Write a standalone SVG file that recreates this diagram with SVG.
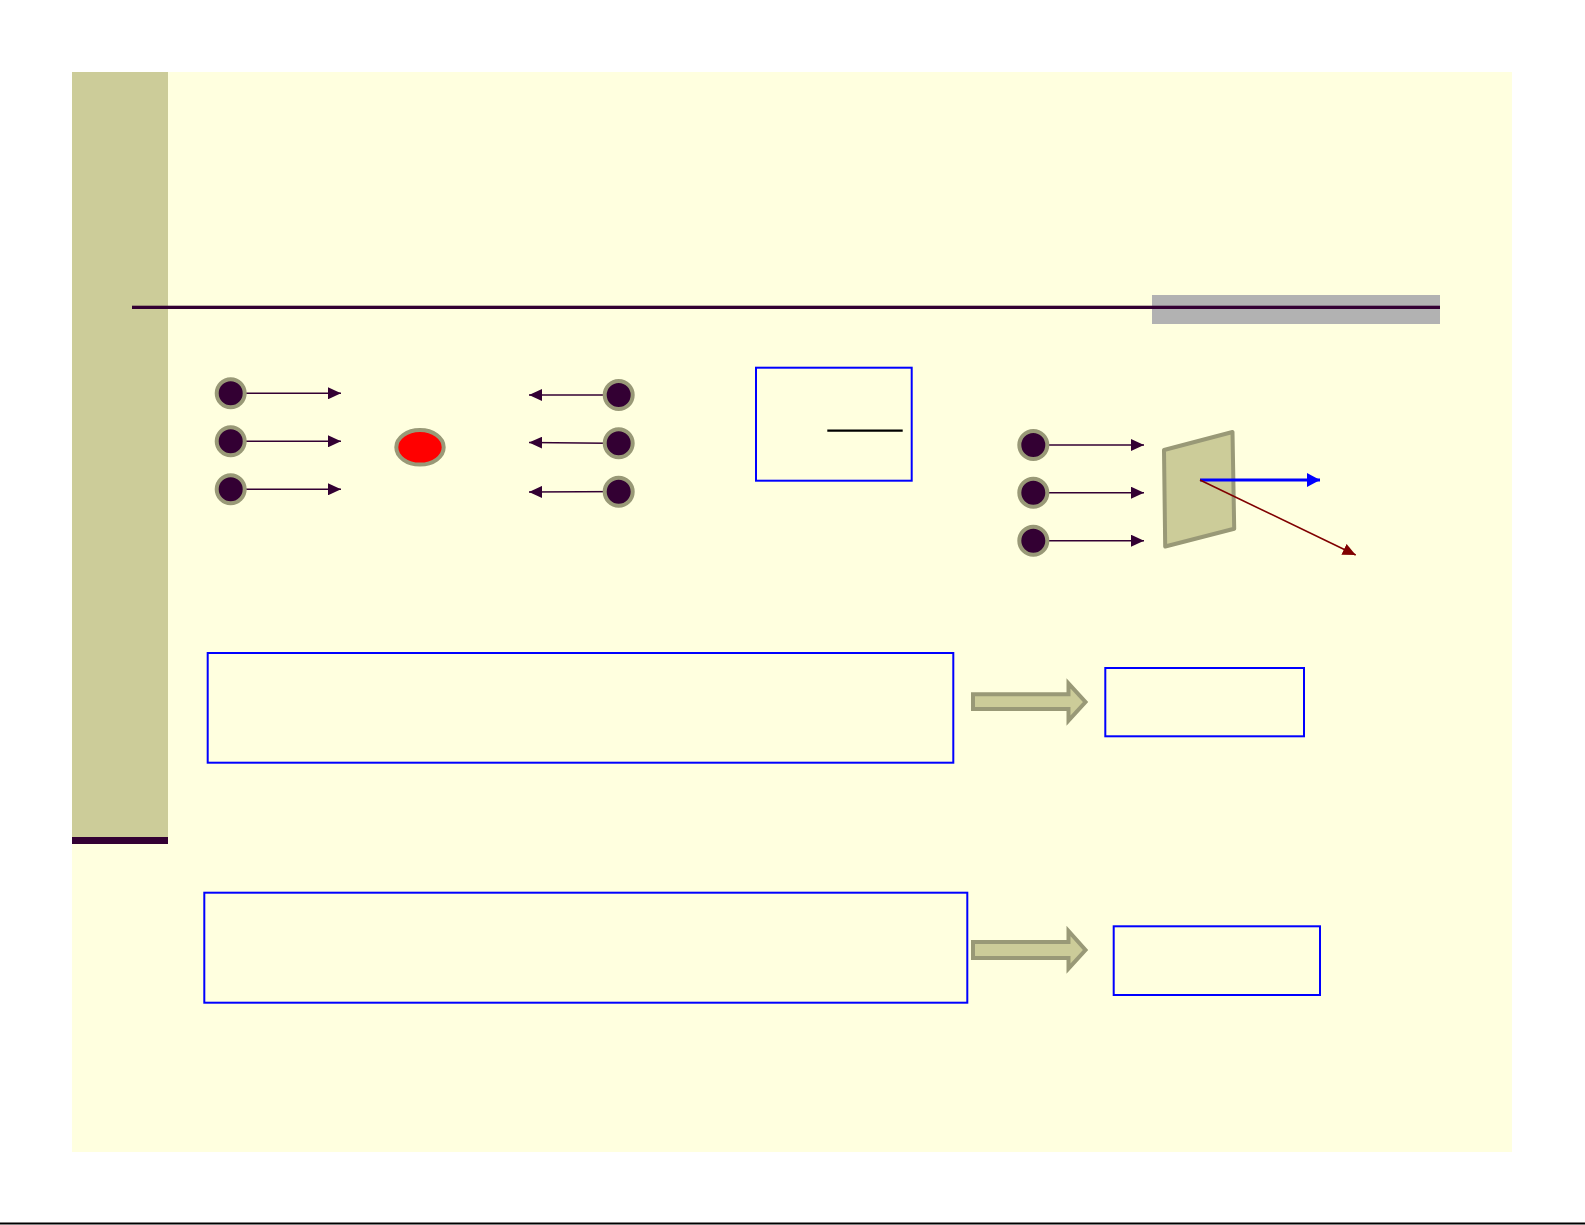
<svg xmlns="http://www.w3.org/2000/svg" width="1585" height="1225" viewBox="0 0 1585 1225">
<style>
.dot{fill:#330033;stroke:#999977;stroke-width:4}
.ln{stroke:#330033;stroke-width:1.6;fill:none}
.box{fill:none;stroke:#0000ff;stroke-width:2}
.blk{fill:#cccc99;stroke:#999977;stroke-width:4;stroke-linejoin:miter}
</style>
<defs>
<marker id="ah" markerUnits="userSpaceOnUse" markerWidth="14" markerHeight="12" refX="13" refY="6" orient="auto">
<path d="M0,0 L13,6 L0,12 Z" fill="#330033"/>
</marker>
<marker id="ahb" markerUnits="userSpaceOnUse" markerWidth="14" markerHeight="14" refX="13" refY="7" orient="auto">
<path d="M0,0 L13,7 L0,14 Z" fill="#0000ff"/>
</marker>
<marker id="ahr" markerUnits="userSpaceOnUse" markerWidth="14" markerHeight="12" refX="13" refY="6" orient="auto">
<path d="M0,0 L13,6 L0,12 Z" fill="#800000"/>
</marker>
</defs>
<rect x="0" y="0" width="1585" height="1225" fill="#ffffff"/>
<g id="background">
<rect x="72" y="72" width="1440" height="1080" fill="#ffffdf"/>
<rect x="72" y="72" width="96" height="765" fill="#cccc99"/>
<rect x="72" y="837" width="96" height="7" fill="#330033"/>
<rect x="1152" y="295" width="288" height="29" fill="#b2b2b2"/>
<rect x="132" y="305.7" width="1308" height="3.3" fill="#330033"/>
<line x1="0" y1="1223.5" x2="1585" y2="1223.5" stroke="#000000" stroke-width="2"/>
</g>
<g id="connectors">
<line class="ln" x1="246" y1="393.3" x2="341" y2="393.3" marker-end="url(#ah)"/>
<line class="ln" x1="246" y1="441.3" x2="341" y2="441.3" marker-end="url(#ah)"/>
<line class="ln" x1="246" y1="489.3" x2="341" y2="489.3" marker-end="url(#ah)"/>
<line class="ln" x1="634" y1="395" x2="529" y2="395" marker-end="url(#ah)"/>
<line class="ln" x1="634" y1="443.5" x2="529" y2="442.5" marker-end="url(#ah)"/>
<line class="ln" x1="634" y1="491.5" x2="529" y2="492" marker-end="url(#ah)"/>
<line class="ln" x1="1049" y1="445" x2="1144" y2="445" marker-end="url(#ah)"/>
<line class="ln" x1="1049" y1="492.7" x2="1144" y2="492.7" marker-end="url(#ah)"/>
<line class="ln" x1="1049" y1="540.7" x2="1144" y2="540.7" marker-end="url(#ah)"/>
</g>
<g id="left-sources">
<circle class="dot" cx="230.7" cy="393.3" r="14"/>
<circle class="dot" cx="230.7" cy="441.3" r="14"/>
<circle class="dot" cx="230.7" cy="489.3" r="14"/>
</g>
<g id="red-ellipse">
<ellipse cx="420" cy="447.3" rx="23.7" ry="17.3" fill="#ff0000" stroke="#999977" stroke-width="4"/>
</g>
<g id="right-sources">
<circle class="dot" cx="618.7" cy="395" r="14"/>
<circle class="dot" cx="618.7" cy="443.3" r="14"/>
<circle class="dot" cx="618.7" cy="491.7" r="14"/>
</g>
<g id="fraction-box">
<rect class="box" x="756" y="367.7" width="155.7" height="113"/>
<line x1="827.3" y1="430.7" x2="902.7" y2="430.7" stroke="#000000" stroke-width="2.2"/>
</g>
<g id="panel-sources">
<circle class="dot" cx="1033.3" cy="445" r="14"/>
<circle class="dot" cx="1033.3" cy="492.7" r="14"/>
<circle class="dot" cx="1033.3" cy="540.7" r="14"/>
</g>
<g id="panel">
<polygon points="1164,450 1232.5,432 1234.2,528.7 1165.2,546.5" fill="#cccc99" stroke="#999977" stroke-width="4" stroke-linejoin="round"/>
<line x1="1200" y1="480" x2="1320" y2="480" stroke="#0000ff" stroke-width="3" marker-end="url(#ahb)"/>
<line x1="1200" y1="480" x2="1355.7" y2="555" stroke="#800000" stroke-width="1.6" marker-end="url(#ahr)"/>
</g>
<g id="box-1">
<rect class="box" x="207.7" y="653" width="745.6" height="109.7"/>
</g>
<g id="block-arrow-1">
<polygon class="blk" points="973,694.3 1068.5,694.3 1068.5,683.5 1085.5,702 1068.5,720.5 1068.5,709 973,709"/>
</g>
<g id="result-1">
<rect class="box" x="1105.3" y="668" width="198.7" height="68.3"/>
</g>
<g id="box-2">
<rect class="box" x="204.3" y="892.7" width="763" height="110"/>
</g>
<g id="block-arrow-2">
<polygon class="blk" points="973,942 1068.5,942 1068.5,931 1085.5,950 1068.5,968.5 1068.5,958 973,958"/>
</g>
<g id="result-2">
<rect class="box" x="1113.7" y="926.3" width="206.3" height="68.7"/>
</g>
</svg>
